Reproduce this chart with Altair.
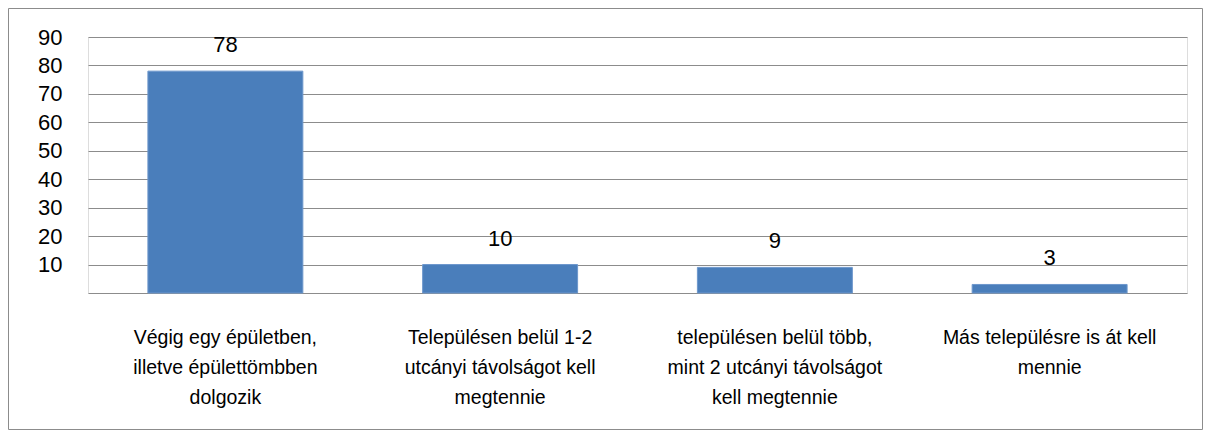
import altair as alt
import pandas as pd

categories = [
    "Végig egy épületben,|illetve épülettömbben|dolgozik",
    "Településen belül 1-2|utcányi távolságot kell|megtennie",
    "településen belül több,|mint 2 utcányi távolságot|kell megtennie",
    "Más településre is át kell|mennie",
]
values = [78, 10, 9, 3]
y_ticks = [0, 10, 20, 30, 40, 50, 60, 70, 80, 90]

df = pd.DataFrame({"cat": categories, "val": values})

FONT = "Liberation Sans"
W, H = 1099, 256

base = alt.Chart(df)

x_enc = alt.X(
    "cat:N",
    sort=categories,
    scale=alt.Scale(paddingInner=0.436, paddingOuter=0.218),
    axis=alt.Axis(
        title=None,
        labelAngle=0,
        labelExpr="split(datum.label, '|')",
        labelFont=FONT,
        labelFontSize=19.5,
        labelColor="#000000",
        labelLineHeight=30,
        labelPadding=35,
        labelBaseline="top",
        ticks=False,
        domain=False,
        labelLimit=400,
    ),
)

y_enc = alt.Y(
    "val:Q",
    scale=alt.Scale(domain=[0, 90], nice=False),
    axis=alt.Axis(
        title=None,
        values=y_ticks,
        labelExpr="datum.value == 0 ? '' : datum.label",
        labelFont=FONT,
        labelFontSize=22,
        labelColor="#000000",
        labelPadding=26,
        labelOverlap=False,
        ticks=False,
        domain=False,
        grid=True,
        gridColor="#8c8c8c",
        gridWidth=1,
    ),
)

bars = base.mark_bar(color="#4A7EBB", stroke="#6d97cc", strokeWidth=1).encode(
    x=x_enc,
    y=y_enc,
)

labels = base.mark_text(
    font=FONT, fontSize=22, color="#000000", baseline="middle", dy=-26
).encode(
    x=x_enc,
    y=y_enc,
    text="val:Q",
)

border = alt.Chart(alt.Data(values=[{"a": 1}])).mark_rect(
    filled=False, stroke="#8c8c8c", strokeWidth=1, clip=False
).encode(
    x=alt.value(-79.5),
    x2=alt.value(W + 15.5),
    y=alt.value(-28.5),
    y2=alt.value(H + 136.5),
)

chart = (
    alt.layer(bars, labels, border)
    .properties(
        width=W,
        height=H,
        autosize=alt.AutoSizeParams(type="none"),
        padding={"left": 80, "top": 29, "right": 16, "bottom": 137},
    )
    .configure_view(strokeWidth=0)
    .configure(background="white")
)

chart.save("out.html", embed_options={"renderer": "svg", "actions": False})
